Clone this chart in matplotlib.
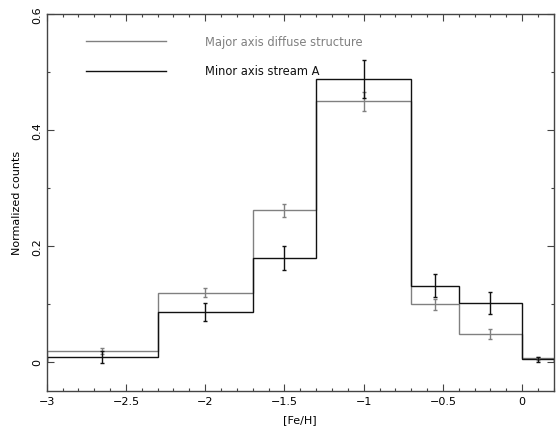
import numpy as np
import matplotlib.pyplot as plt
from matplotlib.ticker import MultipleLocator

# bin edges in [Fe/H]
edges = [-3.0, -2.3, -1.7, -1.3, -0.7, -0.4, 0.0, 0.2]
centers = [-2.65, -2.0, -1.5, -1.0, -0.55, -0.2, 0.1]

# Major axis diffuse structure (grey)
major = [0.019, 0.119, 0.261, 0.449, 0.099, 0.048, 0.006]
major_err = [0.005, 0.008, 0.011, 0.016, 0.010, 0.009, 0.003]

# Minor axis stream A (black)
minor = [0.008, 0.086, 0.179, 0.488, 0.131, 0.102, 0.004]
minor_err = [0.010, 0.016, 0.020, 0.033, 0.020, 0.019, 0.004]

grey = '#808080'
dark = '#111111'

fig = plt.figure(figsize=(5.6, 4.35), dpi=100)
ax = fig.add_axes([0.0834, 0.0995, 0.9056, 0.8665])

ax.stairs(major, edges, color=grey, linewidth=1.0)
ax.stairs(minor, edges, color=dark, linewidth=1.0)
ax.errorbar(centers, major, yerr=major_err, fmt='none', ecolor=grey,
            elinewidth=1.0, capsize=1.5, capthick=1.0)
ax.errorbar(centers, minor, yerr=minor_err, fmt='none', ecolor=dark,
            elinewidth=1.0, capsize=1.5, capthick=1.0)

# legend drawn like the original
ax.plot([-2.75, -2.25], [0.553, 0.553], color=grey, linewidth=1.0)
ax.plot([-2.75, -2.25], [0.501, 0.501], color=dark, linewidth=1.0)
ax.text(-2.0, 0.553, 'Major axis diffuse structure', color=grey,
        fontsize=8.3, va='center', ha='left')
ax.text(-2.0, 0.503, 'Minor axis stream A', color=dark,
        fontsize=8.3, va='center', ha='left')

ax.set_xlim(-3, 0.2)
ax.set_ylim(-0.05, 0.6)
ax.xaxis.set_major_locator(MultipleLocator(0.5))
ax.xaxis.set_minor_locator(MultipleLocator(0.1))
ax.yaxis.set_major_locator(MultipleLocator(0.2))
ax.yaxis.set_minor_locator(MultipleLocator(0.1))
ax.tick_params(which='both', direction='in', top=True, right=True,
               color='#444444', width=0.8, labelsize=8)
ax.tick_params(which='major', length=5)
ax.tick_params(which='minor', length=2.5)
ax.xaxis.set_major_formatter(plt.FuncFormatter(
    lambda v, p: ('%g' % v).replace('-', '\u2212')))
ax.yaxis.set_major_formatter(plt.FuncFormatter(lambda v, p: '%g' % v))
for lab in ax.get_yticklabels():
    lab.set_rotation(90)
    lab.set_va('center')
for s in ax.spines.values():
    s.set_color('#444444')
    s.set_linewidth(1.0)

ax.set_xlabel('[Fe/H]', fontsize=8, labelpad=6)
ax.set_ylabel('Normalized counts', fontsize=8, labelpad=7)

fig.savefig('out.png', dpi=100)
